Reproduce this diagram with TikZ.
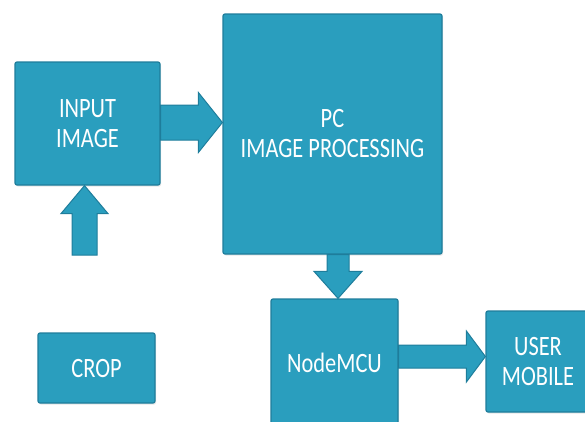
\documentclass[tikz,border=0pt]{standalone}
\usepackage{fontspec}
\newfontfamily\lbl[FakeStretch=0.8]{Carlito}
\usetikzlibrary{calc,shadows}
\definecolor{boxfill}{RGB}{42,158,190}
\definecolor{boxline}{RGB}{30,125,155}
\tikzset{
  blk/.style={draw=boxline, line width=1.2pt, fill=boxfill, rounded corners=2pt,
    text=white, font=\lbl\fontsize{28}{30}\selectfont, align=center, inner sep=0pt,
    drop shadow={opacity=0.2, shadow xshift=1pt, shadow yshift=-1.5pt}},
  barrow/.style={draw=boxline, line width=1pt, fill=boxfill, line join=miter}
}
\begin{document}
\begin{tikzpicture}[x=1pt,y=-1pt]
\useasboundingbox (0,0) rectangle (585,421);
\node[blk, minimum width=145pt, minimum height=123pt] (in) at (87.5,123.5) {INPUT\\IMAGE};
\node[blk, minimum width=219pt, minimum height=240pt] (pc) at (332.5,134) {PC\\IMAGE PROCESSING};
\node[blk, minimum width=117pt, minimum height=70pt] (crop) at (96.5,368) {CROP};
\node[blk, minimum width=127pt, minimum height=128pt] (mcu) at (334.5,363) {NodeMCU};
\node[blk, minimum width=104pt, minimum height=101pt] (um) at (538,361.5) {USER\\MOBILE};
\coordinate (upbase) at (84.5,255);
% INPUT -> PC
\coordinate (a1s) at ($(in.east)+(0,-1)$);
\coordinate (a1t) at (a1s -| pc.west);
\draw[barrow] ($(a1s)+(0,-17.5)$) -- ($(a1t)+(-24,-17.5)$) -- ($(a1t)+(-24,-30)$) -- (a1t)
  -- ($(a1t)+(-24,30)$) -- ($(a1t)+(-24,17.5)$) -- ($(a1s)+(0,17.5)$) -- cycle;
% up arrow into INPUT
\coordinate (a2t) at (upbase |- in.south);
\draw[barrow] ($(upbase)+(-12.5,0)$) -- ($(a2t)+(-12.5,28)$) -- ($(a2t)+(-23.5,28)$) -- (a2t)
  -- ($(a2t)+(23.5,28)$) -- ($(a2t)+(12.5,28)$) -- ($(upbase)+(12.5,0)$) -- cycle;
% PC -> NodeMCU
\coordinate (a3s) at ($(pc.south)+(5.5,0)$);
\coordinate (a3t) at (a3s |- mcu.north);
\draw[barrow] ($(a3s)+(-11,0)$) -- ($(a3t)+(-11,-27)$) -- ($(a3t)+(-24,-27)$) -- (a3t)
  -- ($(a3t)+(24,-27)$) -- ($(a3t)+(11,-27)$) -- ($(a3s)+(11,0)$) -- cycle;
% NodeMCU -> USER MOBILE
\coordinate (a4s) at ($(mcu.east)+(0,-6.5)$);
\coordinate (a4t) at (a4s -| um.west);
\draw[barrow] ($(a4s)+(0,-11.5)$) -- ($(a4t)+(-19,-11.5)$) -- ($(a4t)+(-19,-25.5)$) -- (a4t)
  -- ($(a4t)+(-19,25.5)$) -- ($(a4t)+(-19,11.5)$) -- ($(a4s)+(0,11.5)$) -- cycle;
\end{tikzpicture}
\end{document}
